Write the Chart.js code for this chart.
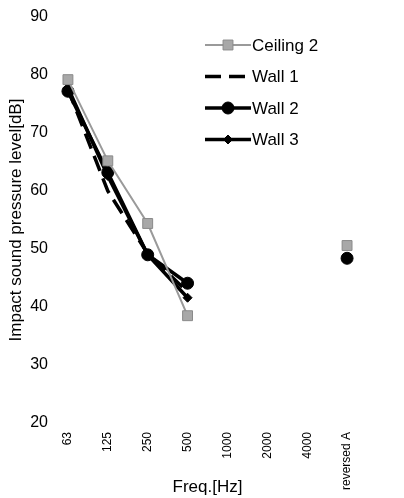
<!DOCTYPE html>
<html>
<head>
<meta charset="utf-8">
<script src="https://cdn.jsdelivr.net/npm/chart.js@4/dist/chart.umd.min.js"></script>
<style>
  html, body { margin: 0; padding: 0; background: #fff; }
  #wrap { width: 404px; height: 498px; }
</style>
</head>
<body>
<div id="wrap"><canvas id="chart" width="404" height="498"></canvas></div>
<script>
const categories = ["63", "125", "250", "500", "1000", "2000", "4000", "reversed A"];
const ceiling2 = [79.2, 65.2, 54.4, 38.5, null, null, null, 50.6];
const wall1 = [77.6, 60.0, 49.2, 42.6, null, null, null, null];
const wall2 = [77.2, 63.2, 49.0, 44.1, null, null, null, 48.4];
const wall3 = [77.8, 62.6, 49.0, 41.6, null, null, null, null];
const yTicks = [20, 30, 40, 50, 60, 70, 80, 90];

const font = "'Liberation Sans', Arial, sans-serif";

// legend drawn by hand so it stacks vertically inside the plot
const sideLegend = {
  id: "sideLegend",
  afterDraw(chart) {
    const ctx = chart.ctx;
    const left = chart.chartArea.right - 162;
    const top = chart.chartArea.top + 28;
    ctx.save();
    chart.data.datasets.forEach((ds, i) => {
      const y = top + i * 31.5;
      ctx.strokeStyle = ds.borderColor;
      ctx.lineWidth = ds.borderWidth;
      ctx.setLineDash(ds.borderDash || []);
      ctx.beginPath();
      ctx.moveTo(left, y);
      ctx.lineTo(left + 46, y);
      ctx.stroke();
      ctx.setLineDash([]);
      if (ds.pointRadius > 0) {
        ctx.fillStyle = ds.pointBackgroundColor;
        ctx.strokeStyle = ds.pointBorderColor;
        ctx.lineWidth = 1;
        Chart.helpers.drawPoint(ctx, {
          pointStyle: ds.pointStyle,
          radius: ds.pointRadius,
          borderWidth: 1,
        }, left + 23, y);
      }
      ctx.fillStyle = "#000";
      ctx.font = "17px " + font;
      ctx.textBaseline = "middle";
      ctx.textAlign = "left";
      ctx.fillText(ds.label, left + 47, y + 1);
    });
    ctx.restore();
  },
};

new Chart(document.getElementById("chart"), {
  type: "line",
  data: {
    labels: categories,
    datasets: [
      {
        label: "Ceiling 2",
        data: ceiling2,
        borderColor: "#9a9a9a",
        borderWidth: 2,
        pointStyle: "rect",
        pointRadius: 7,
        pointBackgroundColor: "#a8a8a8",
        pointBorderColor: "#8a8a8a",
        pointBorderWidth: 1,
      },
      {
        label: "Wall 1",
        data: wall1,
        borderColor: "#000",
        borderWidth: 3.5,
        borderDash: [16, 8],
        pointRadius: 0,
      },
      {
        label: "Wall 2",
        data: wall2,
        borderColor: "#000",
        borderWidth: 3.5,
        pointStyle: "circle",
        pointRadius: 6,
        pointBackgroundColor: "#000",
        pointBorderColor: "#000",
        pointBorderWidth: 1,
      },
      {
        label: "Wall 3",
        data: wall3,
        borderColor: "#000",
        borderWidth: 3.5,
        pointStyle: "rectRot",
        pointRadius: 4.5,
        pointBackgroundColor: "#000",
        pointBorderColor: "#000",
        pointBorderWidth: 1,
      },
    ],
  },
  options: {
    responsive: false,
    animation: false,
    spanGaps: false,
    layout: { padding: { top: 17, right: 37, left: 0, bottom: 0 } },
    plugins: {
      legend: { display: false },
      tooltip: { enabled: false },
    },
    scales: {
      x: {
        offset: true,
        afterFit: (axis) => { axis.height = 75; },
        grid: { display: false, drawTicks: false },
        border: { display: false },
        ticks: {
          color: "#000",
          font: { family: font, size: 12 },
          minRotation: 90,
          maxRotation: 90,
          padding: 9,
          autoSkip: false,
        },
        title: {
          display: true,
          text: "Freq.[Hz]",
          color: "#000",
          font: { family: font, size: 17 },
          padding: { top: 0, bottom: 0 },
        },
      },
      y: {
        min: 20,
        max: 90,
        afterFit: (axis) => { axis.width = 48; },
        afterBuildTicks: (axis) => {
          axis.ticks = yTicks.map((v) => ({ value: v }));
        },
        grid: { display: false, drawTicks: false },
        border: { display: false },
        ticks: {
          color: "#000",
          font: { family: font, size: 16 },
          padding: 0,
        },
        title: {
          display: true,
          text: "Impact sound pressure level[dB]",
          color: "#000",
          font: { family: font, size: 17 },
          padding: { top: 6, bottom: 0 },
        },
      },
    },
  },
  plugins: [sideLegend],
});
</script>
</body>
</html>
